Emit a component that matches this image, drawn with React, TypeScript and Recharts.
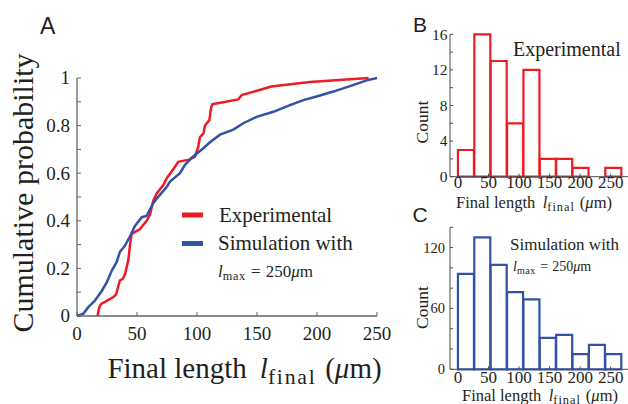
import React from "react";
import { Bar, BarChart, Label, Legend, Line, LineChart, XAxis, YAxis } from "recharts";

const RED = "#ed1c24";
const BLUE = "#3351a5";
const INK = "#231f20";
const AXIS_GRAY = "#666666";
const BOX_GRAY = "#4d4d4d";
const SERIF = "'Liberation Serif', 'Times New Roman', Times, serif";
const SANS = "'Liberation Sans', Arial, sans-serif";

// Panel A: cumulative distributions
const expLength = [17.2, 17.8, 19.2, 20.6, 23, 30.3, 32.5, 34.4, 35.8, 38, 40, 42.8, 44.2, 45.6, 52.5, 58, 60.8, 62.2, 63.6, 66.4, 71.9, 74.7, 81.7, 84.4, 94.2, 98.3, 101, 102.5, 105.3, 106.7, 110.3, 111.7, 113, 115, 134.4, 137.2, 162, 194, 243];
const expProb = [0, 0.02, 0.045, 0.052, 0.058, 0.08, 0.09, 0.125, 0.15, 0.155, 0.175, 0.235, 0.3, 0.345, 0.365, 0.4, 0.425, 0.455, 0.485, 0.515, 0.55, 0.578, 0.627, 0.648, 0.658, 0.67, 0.71, 0.752, 0.766, 0.8, 0.823, 0.875, 0.89, 0.892, 0.91, 0.928, 0.964, 0.983, 1];
const simLength = [0, 5.3, 9.4, 15, 20.6, 24.7, 28.9, 33, 35.8, 40, 44.2, 48.3, 54, 58, 63.6, 66.4, 74.7, 77.5, 85.8, 90, 95.6, 105.3, 110.8, 119.2, 130.3, 138.6, 149.7, 163.6, 177.5, 188.6, 199.7, 213.6, 227.5, 241.4, 250];
const simProb = [0, 0.01, 0.037, 0.065, 0.105, 0.14, 0.19, 0.226, 0.27, 0.296, 0.335, 0.378, 0.415, 0.42, 0.475, 0.493, 0.542, 0.565, 0.6, 0.635, 0.665, 0.705, 0.73, 0.762, 0.783, 0.81, 0.837, 0.858, 0.886, 0.907, 0.922, 0.943, 0.966, 0.99, 1];

const cdfXTicks = [0, 50, 100, 150, 200, 250];
const cdfYTicks = [0, 0.1, 0.2, 0.3, 0.4, 0.5, 0.6, 0.7, 0.8, 0.9, 1];
const cdfYLabels = [0, 0.2, 0.4, 0.6, 0.8, 1];

// Panels B and C: histograms
const binCenters = [13.4, 40.2, 67, 93.8, 120.6, 147.4, 174.2, 201, 227.8, 254.6];
const expCounts = [3, 16, 13, 6, 12, 2, 2, 1, 0, 1];
const simCounts = [94, 130, 103, 76, 69, 31, 34, 15, 24, 15];
const histXTicks = [0, 50, 100, 150, 200, 250];
const expYTicks = [0, 2, 4, 6, 8, 10, 12, 14, 16];
const expYLabels = [0, 4, 8, 12, 16];
const simYTicks = [0, 20, 40, 60, 80, 100, 120, 140];
const simYLabels = [0, 60, 120];

const expCdf = expLength.map((x, i) => ({ x, p: expProb[i] }));
const simCdf = simLength.map((x, i) => ({ x, p: simProb[i] }));

const histXDomain = [-13, 280];

const serifStyle = { fontFamily: SERIF };
const isLabel = (list: number[], v: number) => list.some((l) => Math.abs(l - v) < 1e-9);

function leftTick(labels: number[], gap: number, len: number, fontSize: number, stroke: string) {
  return (p: any) => {
    const v = p.payload.value;
    const ax = p.x + gap;
    return (
      <g>
        <line x1={ax} x2={ax + len} y1={p.y} y2={p.y} stroke={stroke} strokeWidth={1} />
        {isLabel(labels, v) && (
          <text x={p.x} y={p.y} dy="0.34em" textAnchor="end" style={serifStyle} fontSize={fontSize} fill={INK}>
            {v}
          </text>
        )}
      </g>
    );
  };
}

function rightTick(len: number, stroke: string) {
  return (p: any) => <line x1={p.x} x2={p.x - len} y1={p.y} y2={p.y} stroke={stroke} strokeWidth={1} />;
}

function bottomTick(drop: number, len: number, fontSize: number, stroke: string) {
  return (p: any) => (
    <g>
      <line x1={p.x} x2={p.x} y1={p.y} y2={p.y - len} stroke={stroke} strokeWidth={1} />
      <text x={p.x} y={p.y + drop} textAnchor="middle" style={serifStyle} fontSize={fontSize} fill={INK}>
        {p.payload.value}
      </text>
    </g>
  );
}

function FinalLengthTitle({ x, y, size }: { x: number; y: number; size: number }) {
  return (
    <text x={x} y={y} textAnchor="middle" style={serifStyle} fontSize={size} fill={INK}>
      <tspan>Final length</tspan>
      <tspan dx={size * 0.45} fontStyle="italic">l</tspan>
      <tspan dy={size * 0.2} fontSize={size * 0.75} letterSpacing={size * 0.06}>final</tspan>
      <tspan dy={-size * 0.2} dx={size * 0.3}>(</tspan>
      <tspan fontStyle="italic">μ</tspan>
      <tspan>m)</tspan>
    </text>
  );
}

function LmaxText({ x, y, size }: { x: number; y: number; size: number }) {
  return (
    <text x={x} y={y} style={serifStyle} fontSize={size} fill={INK}>
      <tspan fontStyle="italic">l</tspan>
      <tspan dy={size * 0.22} fontSize={size * 0.72} letterSpacing={size * 0.04}>max</tspan>
      <tspan dy={-size * 0.22} dx={size * 0.3}>=</tspan>
      <tspan dx={size * 0.3}>250</tspan>
      <tspan fontStyle="italic">μ</tspan>
      <tspan>m</tspan>
    </text>
  );
}

function CdfKey() {
  return (
    <svg width={400} height={404} style={{ display: "block" }}>
      <rect x={182} y={212.5} width={21} height={5} fill={RED} />
      <text x={219} y={222} style={serifStyle} fontSize={21} fill={INK}>Experimental</text>
      <rect x={182} y={241} width={21} height={5} fill={BLUE} />
      <text x={218} y={250} style={serifStyle} fontSize={21} fill={INK}>Simulation with</text>
      <LmaxText x={218} y={276.5} size={17} />
    </svg>
  );
}

function CdfPanel() {
  return (
    <LineChart width={400} height={404} margin={{ top: 78, right: 23, bottom: 0, left: 0 }}>
      <XAxis
        type="number"
        dataKey="x"
        domain={[0, 250]}
        ticks={cdfXTicks}
        interval={0}
        height={88}
        tickSize={0}
        tickMargin={0}
        tickLine={false}
        axisLine={{ stroke: AXIS_GRAY, strokeWidth: 1.3 }}
        tick={bottomTick(24, 4, 19, AXIS_GRAY)}
      >
        <Label content={() => <FinalLengthTitle x={244.5} y={378} size={29} />} />
      </XAxis>
      <YAxis
        type="number"
        domain={[0, 1]}
        ticks={cdfYTicks}
        interval={0}
        width={77}
        tickSize={0}
        tickMargin={7}
        tickLine={false}
        axisLine={{ stroke: AXIS_GRAY, strokeWidth: 1.3 }}
        tick={leftTick(cdfYLabels, 7, 4, 19, AXIS_GRAY)}
      >
        <Label
          content={() => (
            <text transform="translate(33,193) rotate(-90)" textAnchor="middle" style={serifStyle} fontSize={30} fill={INK}>
              Cumulative probability
            </text>
          )}
        />
      </YAxis>
      <Line data={expCdf} dataKey="p" name="Experimental" type="linear" stroke={RED} strokeWidth={2.5} dot={false} isAnimationActive={false} />
      <Line data={simCdf} dataKey="p" name="Simulation" type="linear" stroke={BLUE} strokeWidth={2.5} dot={false} isAnimationActive={false} />
      <Legend
        layout="horizontal"
        verticalAlign="middle"
        align="center"
        content={() => <CdfKey />}
        wrapperStyle={{ left: 0, top: 0, width: 400, height: 404, pointerEvents: "none" }}
      />
    </LineChart>
  );
}

type HistProps = {
  counts: number[];
  color: string;
  yMax: number;
  yTicks: number[];
  yLabels: number[];
  yFont: number;
  height: number;
  top: number;
  axisHeight: number;
  tickDrop: number;
  yLabelGap: number;
  titleX: number;
  titleY: number;
  countY: number;
  note: React.ReactNode;
};

function HistPanel(props: HistProps) {
  const data = binCenters.map((x, i) => ({ x, count: props.counts[i] }));
  return (
    <BarChart
      width={229}
      height={props.height}
      data={data}
      margin={{ top: props.top, right: 0, bottom: 0, left: 0 }}
      barCategoryGap={0}
      barGap={0}
    >
      <XAxis
        xAxisId="bottom"
        type="number"
        dataKey="x"
        domain={histXDomain}
        ticks={histXTicks}
        interval={0}
        height={props.axisHeight}
        tickSize={0}
        tickMargin={0}
        tickLine={false}
        axisLine={{ stroke: BOX_GRAY }}
        tick={bottomTick(props.tickDrop, 3, 17, BOX_GRAY)}
        allowDataOverflow
      >
        <Label content={() => <FinalLengthTitle x={props.titleX} y={props.titleY} size={16.5} />} />
      </XAxis>
      <XAxis xAxisId="top" orientation="top" type="number" domain={histXDomain} height={0} tick={false} tickLine={false} axisLine={{ stroke: BOX_GRAY }} allowDataOverflow />
      <YAxis
        yAxisId="left"
        type="number"
        domain={[0, props.yMax]}
        ticks={props.yTicks}
        interval={0}
        width={50}
        tickSize={0}
        tickMargin={props.yLabelGap}
        tickLine={false}
        axisLine={{ stroke: BOX_GRAY }}
        tick={leftTick(props.yLabels, props.yLabelGap, 3, props.yFont, BOX_GRAY)}
      >
        <Label
          content={() => (
            <text transform={`translate(28,${props.countY}) rotate(-90)`} textAnchor="middle" style={serifStyle} fontSize={17.5} fill={INK}>
              Count
            </text>
          )}
        />
      </YAxis>
      <YAxis
        yAxisId="right"
        orientation="right"
        type="number"
        domain={[0, props.yMax]}
        ticks={props.yTicks}
        interval={0}
        width={0}
        tickSize={0}
        tickMargin={0}
        tickLine={false}
        axisLine={{ stroke: BOX_GRAY }}
        tick={rightTick(3, BOX_GRAY)}
      />
      <Bar xAxisId="bottom" yAxisId="left" dataKey="count" fill="#ffffff" stroke={props.color} strokeWidth={2.2} isAnimationActive={false} />
      <Legend
        layout="horizontal"
        verticalAlign="middle"
        align="center"
        content={() => (
          <svg width={229} height={props.height} style={{ display: "block" }}>
            {props.note}
          </svg>
        )}
        wrapperStyle={{ left: 0, top: 0, width: 229, height: props.height, pointerEvents: "none" }}
      />
    </BarChart>
  );
}

export default function App() {
  return (
    <div style={{ position: "absolute", left: 0, top: 0, width: 628, height: 404, overflow: "hidden", background: "#ffffff" }}>
      <div style={{ position: "absolute", left: 0, top: 0 }}>
        <CdfPanel />
      </div>
      <div style={{ position: "absolute", left: 400, top: 0 }}>
        <HistPanel
          counts={expCounts}
          color={RED}
          yMax={16}
          yTicks={expYTicks}
          yLabels={expYLabels}
          yFont={15.5}
          height={220}
          top={34.3}
          axisHeight={43.3}
          tickDrop={11}
          yLabelGap={2.5}
          titleX={134}
          titleY={207.5}
          countY={122}
          note={
            <text x={113} y={55.5} style={serifStyle} fontSize={20} fill={INK}>
              Experimental
            </text>
          }
        />
      </div>
      <div style={{ position: "absolute", left: 400, top: 200 }}>
        <HistPanel
          counts={simCounts}
          color={BLUE}
          yMax={140}
          yTicks={simYTicks}
          yLabels={simYLabels}
          yFont={14.5}
          height={204}
          top={27.3}
          axisHeight={34.7}
          tickDrop={13.5}
          yLabelGap={5}
          titleX={140}
          titleY={201}
          countY={107.5}
          note={
            <g>
              <text x={110} y={49.5} style={serifStyle} fontSize={17} fill={INK}>
                Simulation with
              </text>
              <LmaxText x={113} y={70.5} size={14} />
            </g>
          }
        />
      </div>
      <svg width={628} height={404} style={{ position: "absolute", left: 0, top: 0, pointerEvents: "none" }}>
        <text x={40} y={33.5} style={{ fontFamily: SANS }} fontSize={23} fill={INK}>A</text>
        <text x={413} y={31.5} style={{ fontFamily: SANS }} fontSize={21} fill={INK}>B</text>
        <text x={412.5} y={221.5} style={{ fontFamily: SANS }} fontSize={21} fill={INK}>C</text>
      </svg>
    </div>
  );
}
